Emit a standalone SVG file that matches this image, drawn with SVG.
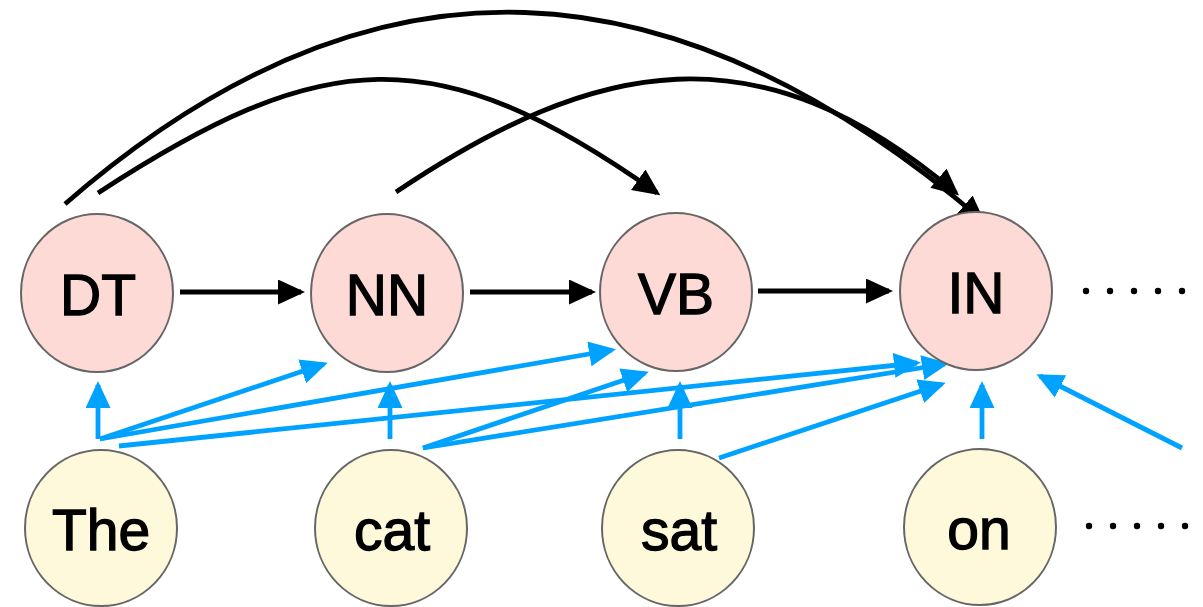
<svg xmlns="http://www.w3.org/2000/svg" width="1203" height="607" viewBox="0 0 1203 607">
<style>
.tag ellipse{fill:#FDDAD6;stroke:#666;stroke-width:2}
.word ellipse{fill:#FEF9DA;stroke:#666;stroke-width:2}
text{font-family:"Liberation Sans",Arial,sans-serif;font-size:57px;fill:#000;stroke:#000;stroke-width:1.3;text-anchor:middle}
.bk{fill:none;stroke:#000;stroke-width:4.8;marker-end:url(#ab)}
.bl{fill:none;stroke:#00A2FF;stroke-width:4.8;marker-end:url(#au)}
.dot{fill:#000}
</style>
<defs>
<marker id="ab" markerUnits="userSpaceOnUse" markerWidth="28" markerHeight="26" refX="23" refY="12.5" orient="auto" viewBox="0 0 28 26">
<path d="M0,0 L27,12.5 L0,25 z" fill="#000"/>
</marker>
<marker id="au" markerUnits="userSpaceOnUse" markerWidth="28" markerHeight="26" refX="23" refY="12.5" orient="auto" viewBox="0 0 28 26">
<path d="M0,0 L27,12.5 L0,25 z" fill="#00A2FF"/>
</marker>
</defs>
<g id="connectors">
<path class="bk" d="M65,204 C375,-66 675,-42 982,220"/>
<path class="bk" d="M98,193 C322,47 435,36 657,193"/>
<path class="bk" d="M396,192 C596,58 758,25 956,193"/>
<path class="bk" d="M180,292 L301,292"/>
<path class="bk" d="M470,292 L592,292"/>
<path class="bk" d="M758,291 L889,291"/>
<path class="bl" d="M98,439 L98,385"/>
<path class="bl" d="M100,439 L324,364"/>
<path class="bl" d="M100,439 L612,350"/>
<path class="bl" d="M119,446 L917,363"/>
<path class="bl" d="M390,439 L390,385"/>
<path class="bl" d="M423,448 L645,373"/>
<path class="bl" d="M423,448 L945,364"/>
<path class="bl" d="M680,439 L680,385"/>
<path class="bl" d="M719,458 L942,384"/>
<path class="bl" d="M982,439 L982,385"/>
<path class="bl" d="M1182,448 L1040,376"/>
</g>
<g id="DT" class="tag"><ellipse cx="97" cy="293" rx="76" ry="79"/><text x="98" y="315">DT</text></g>
<g id="NN" class="tag"><ellipse cx="387" cy="293" rx="76" ry="79"/><text x="387" y="315">NN</text></g>
<g id="VB" class="tag"><ellipse cx="676" cy="292" rx="76" ry="79"/><text x="676" y="314">VB</text></g>
<g id="IN" class="tag"><ellipse cx="976" cy="291" rx="76" ry="79"/><text x="976" y="313">IN</text></g>
<g id="The" class="word"><ellipse cx="101" cy="528" rx="76" ry="78"/><text x="101" y="550">The</text></g>
<g id="cat" class="word"><ellipse cx="391" cy="528" rx="76" ry="78"/><text x="392" y="550">cat</text></g>
<g id="sat" class="word"><ellipse cx="678" cy="528" rx="76" ry="78"/><text x="679" y="550">sat</text></g>
<g id="on" class="word"><ellipse cx="980" cy="527" rx="76" ry="78"/><text x="979" y="549">on</text></g>
<g id="dots-top">
<circle class="dot" cx="1086" cy="291" r="3.2"/><circle class="dot" cx="1110" cy="291" r="3.2"/><circle class="dot" cx="1134" cy="291" r="3.2"/><circle class="dot" cx="1158" cy="291" r="3.2"/><circle class="dot" cx="1182" cy="291" r="3.2"/>
</g>
<g id="dots-bottom">
<circle class="dot" cx="1089" cy="526" r="3.2"/><circle class="dot" cx="1113" cy="526" r="3.2"/><circle class="dot" cx="1137" cy="526" r="3.2"/><circle class="dot" cx="1161" cy="526" r="3.2"/><circle class="dot" cx="1185" cy="526" r="3.2"/>
</g>
</svg>
